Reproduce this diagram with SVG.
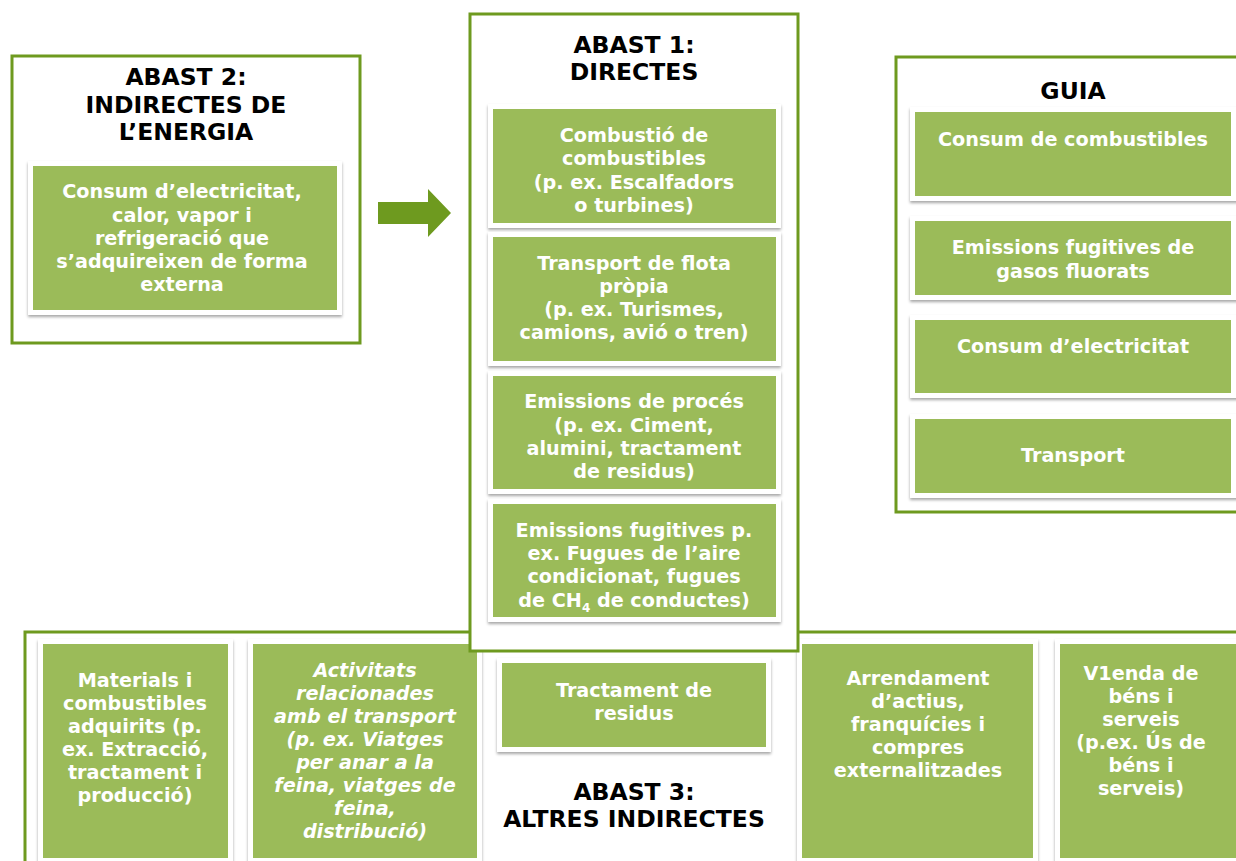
<svg xmlns="http://www.w3.org/2000/svg" width="1236" height="861" viewBox="0 0 1236 861">
<defs>
<filter id="sh" x="-10%" y="-10%" width="120%" height="130%">
<feDropShadow dx="0" dy="2" stdDeviation="1.5" flood-color="#000" flood-opacity="0.35"/>
</filter>
<style>
.outer{fill:#fff;stroke:#6e9a1f;stroke-width:3}
.frame{fill:#fff;filter:url(#sh)}
.green{fill:#9bbb59}
.t{font-family:"DejaVu Sans","Verdana",sans-serif;font-weight:bold;font-size:19.2px;fill:#fff;text-anchor:middle}
.it{font-style:italic}
.h{font-family:"DejaVu Sans","Verdana",sans-serif;font-weight:bold;font-size:23.5px;fill:#000;text-anchor:middle}
</style>
</defs>
<rect width="1236" height="861" fill="#fff"/>

<g id="abast3">
<rect class="outer" x="25" y="632" width="1240" height="260"/>
<text class="h" x="634" y="800">ABAST 3:</text>
<text class="h" x="634" y="827">ALTRES INDIRECTES</text>
</g>

<g id="materials">
<rect class="frame" x="38" y="639" width="195" height="230"/>
<rect class="green" x="43" y="644" width="185" height="214"/>
<text class="t"><tspan x="135" y="687">Materials i</tspan><tspan x="135" y="710">combustibles</tspan><tspan x="135" y="733">adquirits (p.</tspan><tspan x="135" y="756">ex. Extracció,</tspan><tspan x="135" y="779">tractament i</tspan><tspan x="135" y="802">producció)</tspan></text>
</g>

<g id="activitats">
<rect class="frame" x="248" y="639" width="234" height="230"/>
<rect class="green" x="253" y="644" width="224" height="214"/>
<text class="t it"><tspan x="365" y="677">Activitats</tspan><tspan x="365" y="700">relacionades</tspan><tspan x="365" y="723">amb el transport</tspan><tspan x="365" y="746">(p. ex. Viatges</tspan><tspan x="365" y="769">per anar a la</tspan><tspan x="365" y="792">feina, viatges de</tspan><tspan x="365" y="815">feina,</tspan><tspan x="365" y="838">distribució)</tspan></text>
</g>

<g id="arrendament">
<rect class="frame" x="797" y="639" width="241" height="230"/>
<rect class="green" x="802" y="644" width="231" height="214"/>
<text class="t"><tspan x="918" y="685">Arrendament</tspan><tspan x="918" y="708">d’actius,</tspan><tspan x="918" y="731">franquícies i</tspan><tspan x="918" y="754">compres</tspan><tspan x="918" y="777">externalitzades</tspan></text>
</g>

<g id="venda">
<rect class="frame" x="1055" y="639" width="190" height="230"/>
<rect class="green" x="1060" y="644" width="180" height="214"/>
<text class="t"><tspan x="1141" y="680">V1enda de</tspan><tspan x="1141" y="703">béns i</tspan><tspan x="1141" y="726">serveis</tspan><tspan x="1141" y="749">(p.ex. Ús de</tspan><tspan x="1141" y="772">béns i</tspan><tspan x="1141" y="795">serveis)</tspan></text>
</g>

<g id="tractament">
<rect class="frame" x="497" y="658" width="274" height="94"/>
<rect class="green" x="502" y="663" width="264" height="84"/>
<text class="t"><tspan x="634" y="697">Tractament de</tspan><tspan x="634" y="720">residus</tspan></text>
</g>

<g id="abast2">
<rect class="outer" x="12" y="56" width="348" height="287"/>
<text class="h" x="186" y="85">ABAST 2:</text>
<text class="h" x="186" y="113">INDIRECTES DE</text>
<text class="h" x="186" y="140">L’ENERGIA</text>
<rect class="frame" x="28" y="161" width="314" height="154"/>
<rect class="green" x="33" y="166" width="304" height="144"/>
<text class="t"><tspan x="182" y="198">Consum d’electricitat,</tspan><tspan x="182" y="222">calor, vapor i</tspan><tspan x="182" y="245">refrigeració que</tspan><tspan x="182" y="268">s’adquireixen de forma</tspan><tspan x="182" y="291">externa</tspan></text>
</g>

<g id="abast1">
<rect class="outer" x="470" y="14" width="328" height="637"/>
<text class="h" x="634" y="53">ABAST 1:</text>
<text class="h" x="634" y="80">DIRECTES</text>
<rect class="frame" x="488" y="104" width="293" height="124"/>
<rect class="green" x="493" y="109" width="283" height="114"/>
<text class="t"><tspan x="634" y="142">Combustió de</tspan><tspan x="634" y="165">combustibles</tspan><tspan x="634" y="189">(p. ex. Escalfadors</tspan><tspan x="634" y="212">o turbines)</tspan></text>
<rect class="frame" x="488" y="232" width="293" height="134"/>
<rect class="green" x="493" y="237" width="283" height="124"/>
<text class="t"><tspan x="634" y="270">Transport de flota</tspan><tspan x="634" y="293">pròpia</tspan><tspan x="634" y="316">(p. ex. Turismes,</tspan><tspan x="634" y="339">camions, avió o tren)</tspan></text>
<rect class="frame" x="488" y="371" width="293" height="123"/>
<rect class="green" x="493" y="376" width="283" height="113"/>
<text class="t"><tspan x="634" y="408">Emissions de procés</tspan><tspan x="634" y="432">(p. ex. Ciment,</tspan><tspan x="634" y="455">alumini, tractament</tspan><tspan x="634" y="478">de residus)</tspan></text>
<rect class="frame" x="488" y="499" width="293" height="123"/>
<rect class="green" x="493" y="504" width="283" height="113"/>
<text class="t"><tspan x="634" y="537">Emissions fugitives p.</tspan><tspan x="634" y="560">ex. Fugues de l’aire</tspan><tspan x="634" y="583">condicionat, fugues</tspan><tspan x="634" y="607">de CH<tspan font-size="12" dy="5">4</tspan><tspan dy="-5"> de conductes)</tspan></tspan></text>
</g>

<g id="guia">
<rect class="outer" x="896" y="57" width="360" height="455"/>
<text class="h" x="1073" y="99">GUIA</text>
<rect class="frame" x="910" y="107" width="330" height="94"/>
<rect class="green" x="915" y="112" width="316" height="84"/>
<text class="t" x="1073" y="146">Consum de combustibles</text>
<rect class="frame" x="910" y="216" width="330" height="84"/>
<rect class="green" x="915" y="221" width="316" height="74"/>
<text class="t"><tspan x="1073" y="254">Emissions fugitives de</tspan><tspan x="1073" y="278">gasos fluorats</tspan></text>
<rect class="frame" x="910" y="315" width="330" height="83"/>
<rect class="green" x="915" y="320" width="316" height="73"/>
<text class="t" x="1073" y="353">Consum d’electricitat</text>
<rect class="frame" x="910" y="414" width="330" height="84"/>
<rect class="green" x="915" y="419" width="316" height="74"/>
<text class="t" x="1073" y="462">Transport</text>
</g>

<g id="connectors">
<polygon points="378,202 428,202 428,189 451,213 428,237 428,224 378,224" fill="#6e9a1f"/>
</g>
</svg>
